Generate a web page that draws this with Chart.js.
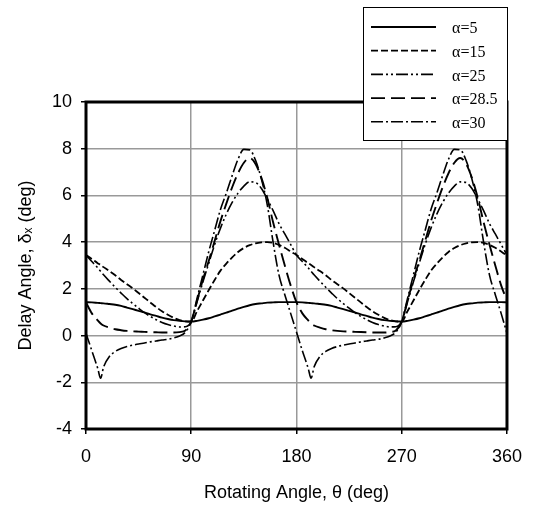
<!DOCTYPE html>
<html><head><meta charset="utf-8">
<script src="https://cdn.jsdelivr.net/npm/chart.js@4.4.0/dist/chart.umd.min.js"></script>
<style>html,body{margin:0;padding:0;background:#fff}#wrap{width:534px;height:509px}</style>
</head><body><div id="wrap"><canvas id="c" width="534" height="509"></canvas></div>
<script>
// Rotating angle θ (deg)
const theta = [0,5,10,12.5,15,20,25,30,35,40,45,50,55,60,65,70,75,80,85,90,
  95,100,105,110,115,120,125,130,135,140,145,150,155,160,165,170,175,180,
  185,190,192.5,195,200,205,210,215,220,225,230,235,240,245,250,255,260,265,270,
  275,280,285,290,295,300,305,310,315,320,325,330,335,340,345,350,355,360];

// Delay angle δx (deg) for each α
const a5 = [1.43,1.42,1.40,1.39,1.38,1.35,1.32,1.27,1.20,1.13,1.06,0.99,0.91,0.84,0.77,0.71,0.66,0.63,0.61,0.60,
  0.63,0.68,0.74,0.82,0.90,0.98,1.07,1.15,1.23,1.30,1.35,1.38,1.41,1.42,1.43,1.43,1.43,1.43,
  1.42,1.40,1.39,1.38,1.35,1.32,1.27,1.20,1.13,1.06,0.99,0.91,0.84,0.77,0.71,0.66,0.63,0.61,0.60,
  0.63,0.68,0.74,0.82,0.90,0.98,1.07,1.15,1.23,1.30,1.35,1.38,1.41,1.42,1.43,1.43,1.43,1.42];
const a15 = [3.45,3.28,3.10,3.02,2.93,2.76,2.58,2.38,2.20,2.02,1.82,1.62,1.42,1.22,1.04,0.89,0.76,0.66,0.61,0.60,
  1.05,1.50,1.95,2.38,2.78,3.08,3.35,3.58,3.75,3.87,3.95,3.99,4.00,3.97,3.88,3.76,3.60,3.45,
  3.28,3.10,3.02,2.93,2.76,2.58,2.38,2.20,2.02,1.82,1.62,1.42,1.22,1.04,0.89,0.76,0.66,0.61,0.60,
  1.05,1.50,1.95,2.38,2.78,3.08,3.35,3.58,3.75,3.87,3.95,3.99,4.00,3.97,3.88,3.76,3.60,3.42];
const a25 = [3.45,3.17,2.90,2.75,2.60,2.33,2.07,1.82,1.58,1.37,1.17,0.98,0.82,0.68,0.56,0.47,0.41,0.37,0.38,0.60,
  1.45,2.30,3.10,3.90,4.60,5.20,5.70,6.10,6.40,6.58,6.55,6.30,5.85,5.35,4.80,4.35,3.90,3.45,
  3.17,2.90,2.75,2.60,2.33,2.07,1.82,1.58,1.37,1.17,0.98,0.82,0.68,0.56,0.47,0.41,0.37,0.38,0.60,
  1.45,2.30,3.10,3.90,4.60,5.20,5.70,6.10,6.40,6.58,6.55,6.30,5.85,5.35,4.80,4.35,3.90,3.45];
const a285 = [1.42,0.95,0.65,0.52,0.43,0.34,0.27,0.23,0.20,0.18,0.17,0.16,0.15,0.14,0.13,0.13,0.13,0.15,0.22,0.60,
  1.50,2.40,3.20,4.05,4.90,5.65,6.35,6.95,7.40,7.60,7.35,6.75,5.90,4.85,3.90,3.00,2.15,1.42,
  0.95,0.65,0.52,0.43,0.34,0.27,0.23,0.20,0.18,0.17,0.16,0.15,0.14,0.13,0.13,0.13,0.15,0.22,0.60,
  1.50,2.40,3.20,4.05,4.90,5.65,6.35,6.95,7.40,7.60,7.35,6.75,5.90,4.85,3.90,3.00,2.15,1.50];
const a30 = [0.10,-0.65,-1.40,-1.83,-1.35,-0.90,-0.68,-0.55,-0.47,-0.41,-0.36,-0.32,-0.27,-0.23,-0.19,-0.16,-0.10,-0.02,0.15,0.60,
  1.60,2.60,3.60,4.50,5.40,6.10,6.85,7.55,7.97,7.95,7.50,6.70,5.60,4.00,2.60,1.75,0.95,0.15,
  -0.65,-1.40,-1.83,-1.35,-0.90,-0.68,-0.55,-0.47,-0.41,-0.36,-0.32,-0.27,-0.23,-0.19,-0.16,-0.10,-0.02,0.15,0.60,
  1.60,2.60,3.60,4.50,5.40,6.10,6.85,7.55,7.97,7.95,7.50,6.70,5.60,4.00,2.60,1.75,0.95,0.10];

const seriesLabels = ['α=5','α=15','α=25','α=28.5','α=30'];
const seriesValues = [a5, a15, a25, a285, a30];
const xTicks = [0, 90, 180, 270, 360];
const yTicks = [-4, -2, 0, 2, 4, 6, 8, 10];
const xTitle = 'Rotating Angle, θ (deg)';
const yTitle = 'Delay Angle, δₓ (deg)';

const dashes = [[], [7,3], [12,3,2,3,2,3], [14,6], [12,3,2,3]];
const widths = [1.9, 1.8, 1.6, 1.9, 1.6];

const datasets = seriesValues.map((vals, i) => ({
  label: seriesLabels[i],
  data: vals.map((v, k) => ({x: theta[k], y: v})),
  borderColor: '#000',
  borderWidth: widths[i],
  borderDash: dashes[i],
  pointRadius: 0,
  fill: false,
  cubicInterpolationMode: 'monotone'
}));

const framePlugin = {
  id: 'frame',
  afterDatasetsDraw(chart) {
    const {ctx, chartArea: a} = chart;
    ctx.save();
    ctx.strokeStyle = '#000';
    ctx.lineWidth = 3;
    ctx.strokeRect(a.left, a.top, a.right - a.left, a.bottom - a.top);
    ctx.restore();
  }
};

const legendPlugin = {
  id: 'boxLegend',
  afterDraw(chart) {
    const ctx = chart.ctx;
    ctx.save();
    ctx.fillStyle = '#fff';
    ctx.fillRect(363.5, 7.5, 144, 133);
    ctx.strokeStyle = '#000';
    ctx.lineWidth = 1;
    ctx.strokeRect(363.5, 7.5, 144, 133);
    chart.data.datasets.forEach((ds, i) => {
      const y = 27 + i * 23.7;
      ctx.setLineDash(ds.borderDash || []);
      ctx.lineWidth = ds.borderWidth;
      ctx.beginPath();
      ctx.moveTo(371, y);
      ctx.lineTo(436, y);
      ctx.stroke();
      ctx.setLineDash([]);
      ctx.font = '16px "Liberation Serif"';
      ctx.fillStyle = '#000';
      ctx.textBaseline = 'middle';
      ctx.textAlign = 'left';
      ctx.fillText(ds.label, 452, y + 2);
    });
    ctx.restore();
  }
};

const tickFont = {family: '"Liberation Sans", Arial, sans-serif', size: 18};

new Chart(document.getElementById('c'), {
  type: 'line',
  data: {datasets},
  plugins: [framePlugin, legendPlugin],
  options: {
    responsive: false,
    animation: false,
    devicePixelRatio: 1,
    layout: {padding: {left: 0, right: 26, top: 102, bottom: 0}},
    plugins: {legend: {display: false}, tooltip: {enabled: false}},
    scales: {
      x: {
        type: 'linear', min: 0, max: 360,
        afterBuildTicks: s => { s.ticks = xTicks.map(v => ({value: v})); },
        afterFit: s => { s.height = 80; },
        grid: {color: '#999', lineWidth: 1.5, tickColor: '#000', tickLength: 5, tickWidth: 1.5},
        border: {display: false},
        ticks: {color: '#000', font: tickFont, padding: 12, maxRotation: 0},
        title: {display: true, text: xTitle, color: '#000', font: tickFont, padding: {top: 0, bottom: 5}}
      },
      y: {
        type: 'linear', min: -4, max: 10,
        afterBuildTicks: s => { s.ticks = yTicks.map(v => ({value: v})); },
        afterFit: s => { s.width = 86; },
        grid: {color: '#999', lineWidth: 1.5, tickColor: '#000', tickLength: 5, tickWidth: 1.5},
        border: {display: false},
        ticks: {color: '#000', font: tickFont, padding: 9},
        title: {display: true, text: yTitle, color: '#000', font: tickFont, padding: {top: 15, bottom: 0}}
      }
    }
  }
});
</script>
</body></html>
